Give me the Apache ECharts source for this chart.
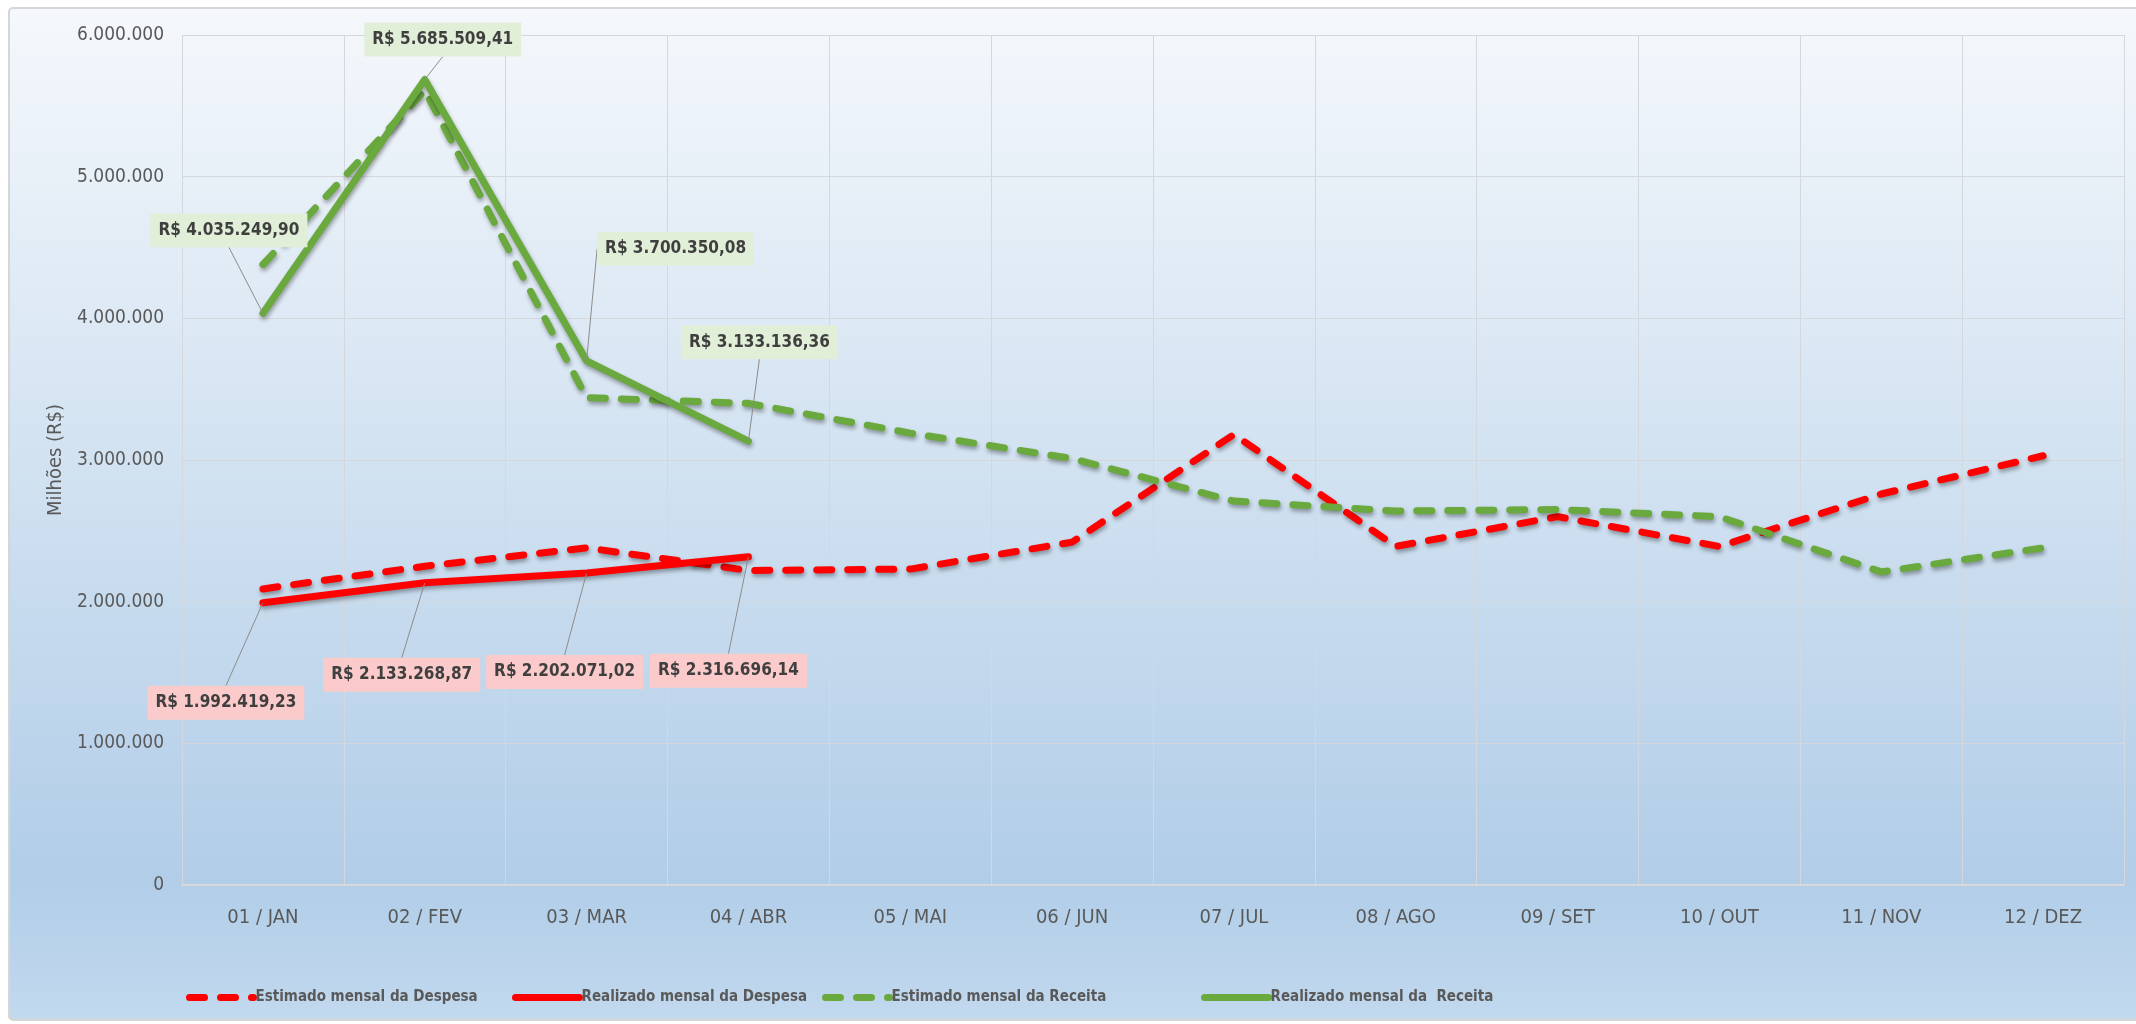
<!DOCTYPE html>
<html>
<head>
<meta charset="utf-8">
<style>
  html, body { margin: 0; padding: 0; background: #ffffff; }
  #chart { width: 2136px; height: 1024px; }
</style>
<script src="https://cdn.jsdelivr.net/npm/echarts@6/dist/echarts.min.js"></script>
</head>
<body>
<div id="chart"></div>
<script>
// Months of the fiscal year
const categories = ['01 / JAN', '02 / FEV', '03 / MAR', '04 / ABR', '05 / MAI', '06 / JUN',
                    '07 / JUL', '08 / AGO', '09 / SET', '10 / OUT', '11 / NOV', '12 / DEZ'];

// Monthly expense: estimate and realized (R$)
const despesaEstimada = [2090000, 2250000, 2380000, 2220000, 2230000, 2420000,
                         3180000, 2390000, 2600000, 2390000, 2760000, 3030000];
const despesaRealizada = [1992419.23, 2133268.87, 2202071.02, 2316696.14];

// Monthly revenue: estimate and realized (R$)
const receitaEstimada = [4380000, 5610000, 3440000, 3400000, 3190000, 3010000,
                         2710000, 2640000, 2650000, 2600000, 2210000, 2380000];
const receitaRealizada = [4035249.90, 5685509.41, 3700350.08, 3133136.36];

// Y-axis ticks
const yTicks = [0, 1000000, 2000000, 3000000, 4000000, 5000000, 6000000];

// Series names (legend entries)
const seriesNames = ['Estimado mensal da Despesa', 'Realizado mensal da Despesa',
                     'Estimado mensal da Receita', 'Realizado mensal da  Receita'];

// Label box offsets (px) from each realized point
const despesaLabelOffsets = [[-37, 100], [-23, 92], [-22, 99], [-20, 114]];
const receitaLabelOffsets = [[-34, -83], [18, -40], [89, -112], [11, -99]];

// Left edge of each legend entry (px)
const legendLefts = [181, 507, 817, 1196];

const FONT = "'DejaVu Sans Condensed', 'DejaVu Sans', sans-serif";
const RED = '#ff0000';
const GREEN = '#6aa93e';
const GRAY_TEXT = '#595959';

function groupThousands(intStr) {
  return intStr.replace(/\B(?=(\d{3})+(?!\d))/g, '.');
}
function formatReais(v) {
  const parts = v.toFixed(2).split('.');
  return 'R$ ' + groupThousands(parts[0]) + ',' + parts[1];
}

const chart = echarts.init(document.getElementById('chart'), null, { renderer: 'canvas' });

const lineShadow = {
  shadowColor: 'rgba(0,0,0,0.35)',
  shadowBlur: 4,
  shadowOffsetX: 1,
  shadowOffsetY: 3
};

function realizedLabel(bg) {
  return {
    show: true,
    position: 'inside',
    formatter: p => formatReais(p.value),
    fontFamily: FONT,
    fontWeight: 'bold',
    fontSize: 17,
    color: '#3f3f3f',
    backgroundColor: bg,
    padding: [9, 8, 8, 8]
  };
}

// One legend block per series so each entry sits at its own position
const legends = seriesNames.map((name, i) => ({
  left: legendLefts[i],
  top: 985,
  itemWidth: 64,
  itemHeight: 14,
  itemGap: 0,
  textStyle: { fontFamily: FONT, fontWeight: 'bold', fontSize: 15, color: GRAY_TEXT, padding: [0, 0, 0, -3] },
  itemStyle: { opacity: 0 },
  lineStyle: { width: 7 },
  data: [name]
}));

const option = {
  animation: false,
  backgroundColor: 'transparent',
  graphic: [{
    type: 'rect',
    z: -10,
    silent: true,
    shape: { x: 9, y: 8, width: 2140, height: 1012, r: 4 },
    style: {
      fill: new echarts.graphic.LinearGradient(0, 0, 0, 1, [
        { offset: 0, color: '#f5f8fc' },
        { offset: 0.45, color: '#d2e2f1' },
        { offset: 0.86, color: '#b1cde8' },
        { offset: 1, color: '#c2d9ee' }
      ]),
      stroke: '#d6d6d6',
      lineWidth: 2
    }
  }],
  grid: { left: 182, right: 12, top: 35, bottom: 139, containLabel: false },
  legend: legends,
  xAxis: {
    type: 'category',
    data: categories,
    boundaryGap: true,
    axisLine: { show: true, lineStyle: { color: '#d9d9d9', width: 2 } },
    axisTick: { show: false },
    axisLabel: { fontFamily: FONT, fontSize: 20, color: GRAY_TEXT, margin: 23 },
    splitLine: { show: true, lineStyle: { color: '#d4d8dc', width: 1 } }
  },
  yAxis: {
    type: 'value',
    min: yTicks[0],
    max: yTicks[yTicks.length - 1],
    interval: yTicks[1] - yTicks[0],
    name: 'Milhões (R$)',
    nameLocation: 'middle',
    nameGap: 96,
    nameRotate: 90,
    nameTextStyle: { fontFamily: FONT, fontSize: 20, color: GRAY_TEXT },
    axisLine: { show: false },
    axisTick: { show: false },
    axisLabel: {
      fontFamily: FONT, fontSize: 19, color: GRAY_TEXT, margin: 18,
      formatter: v => groupThousands(String(v))
    },
    splitLine: { show: true, lineStyle: { color: '#d4d8dc', width: 1 } }
  },
  series: [
    {
      name: seriesNames[0],
      type: 'line',
      data: despesaEstimada,
      symbol: 'none',
      color: RED,
      lineStyle: Object.assign({ color: RED, width: 7, type: [15, 16], cap: 'round', join: 'round' }, lineShadow),
      z: 2
    },
    {
      name: seriesNames[1],
      type: 'line',
      data: despesaRealizada,
      symbol: 'circle',
      symbolSize: 1,
      showSymbol: true,
      color: RED,
      itemStyle: { color: 'rgba(0,0,0,0)' },
      lineStyle: Object.assign({ color: RED, width: 7, cap: 'round', join: 'round' }, lineShadow),
      label: realizedLabel('#fbcaca'),
      labelLine: { show: true, lineStyle: { color: '#8c8c8c', width: 1 } },
      labelLayout: p => ({ dx: despesaLabelOffsets[p.dataIndex][0], dy: despesaLabelOffsets[p.dataIndex][1] }),
      z: 3
    },
    {
      name: seriesNames[2],
      type: 'line',
      data: receitaEstimada,
      symbol: 'none',
      color: GREEN,
      lineStyle: Object.assign({ color: GREEN, width: 7, type: [15, 16], cap: 'round', join: 'round' }, lineShadow),
      z: 4
    },
    {
      name: seriesNames[3],
      type: 'line',
      data: receitaRealizada,
      symbol: 'circle',
      symbolSize: 1,
      showSymbol: true,
      color: GREEN,
      itemStyle: { color: 'rgba(0,0,0,0)' },
      lineStyle: Object.assign({ color: GREEN, width: 7, cap: 'round', join: 'round' }, lineShadow),
      label: realizedLabel('#e1eed8'),
      labelLine: { show: true, lineStyle: { color: '#8c8c8c', width: 1 } },
      labelLayout: p => ({ dx: receitaLabelOffsets[p.dataIndex][0], dy: receitaLabelOffsets[p.dataIndex][1] }),
      z: 5
    }
  ]
};

chart.setOption(option);
</script>
</body>
</html>
